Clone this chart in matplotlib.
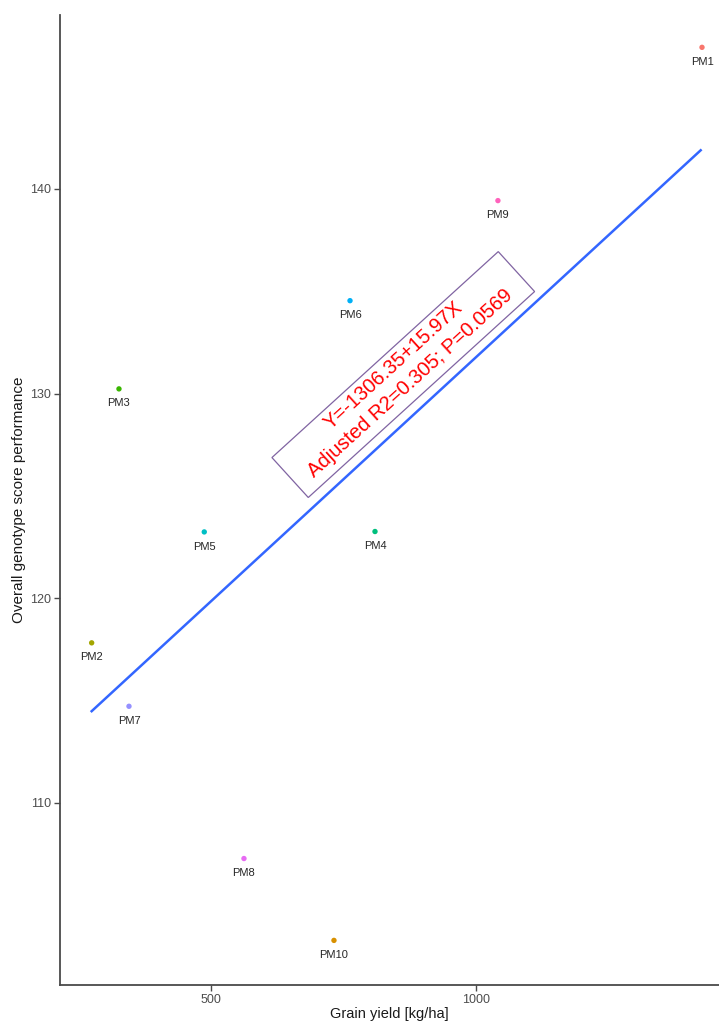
#Imports
import matplotlib
matplotlib.use('Agg')
import matplotlib.pyplot as plt
import matplotlib.transforms as mtransforms
from matplotlib.patches import Rectangle

plt.rcParams['font.family'] = ['Liberation Sans', 'DejaVu Sans']

#data
genotypes = ['PM1', 'PM10', 'PM2', 'PM3', 'PM4', 'PM5', 'PM6', 'PM7', 'PM8', 'PM9']
grain_yield = [1427.5, 732.3, 274.6, 326.2, 809.8, 487.3, 762.6, 345.1, 562.3, 1042.0]
score = [146.92, 103.28, 117.82, 130.23, 123.26, 123.24, 134.54, 114.72, 107.28, 139.43]
hue_colors = ['#F8766D', '#D89000', '#A3A500', '#39B600', '#00BF7D',
              '#00BFC4', '#00B0F6', '#9590FF', '#E76BF3', '#FF62BC']

#fitted line (as drawn)
fit_x = [274.6, 1425.0]
fit_y = [114.48, 141.89]

eq_text = 'Y=-1306.35+15.97X\nAdjusted R2=0.305; P=0.0569'
eq_pos = (863.2, 130.93)
eq_angle = 42.3

fig = plt.figure(figsize=(7.19, 10.25), dpi=100)
ax = fig.add_axes([60/719, 40/1025, 1 - 60/719, 970/1025])

ax.plot(fit_x, fit_y, color='#3366FF', lw=1.8, zorder=2)

for name, x, y, c in zip(genotypes, grain_yield, score, hue_colors):
    ax.scatter(x, y, s=15, color=c, edgecolors='none', zorder=3)
    ax.annotate(name, (x, y), xytext=(0, -10.5), textcoords='offset points',
                ha='center', va='center', fontsize=8, color='#262626', zorder=4)

ax.set_xlim(214.8, 1459.6)
ax.set_ylim(101.1, 148.5)
ax.set_xticks([500, 1000])
ax.set_yticks([110, 120, 130, 140])

for side in ['top', 'right']:
    ax.spines[side].set_visible(False)
for side in ['left', 'bottom']:
    ax.spines[side].set_color('#4a4a4a')
    ax.spines[side].set_linewidth(1.3)
ax.tick_params(axis='both', colors='#4a4a4a', length=4, width=1.0, pad=2.5,
               labelsize=9, labelcolor='#4D4D4D')

ax.set_xlabel('Grain yield [kg/ha]', fontsize=10.5, color='#1a1a1a', labelpad=1)
ax.set_ylabel('Overall genotype score performance', fontsize=11, color='#1a1a1a', labelpad=3)

#rotated box + equation
box_tr = mtransforms.Affine2D().rotate_deg(eq_angle) + \
    mtransforms.ScaledTranslation(eq_pos[0], eq_pos[1], ax.transData)
ax.add_patch(Rectangle((-153, -27), 306, 54, transform=box_tr, fill=False,
                       edgecolor='#8064A2', lw=0.9, zorder=5))
ax.text(eq_pos[0] - 3, eq_pos[1], eq_text, rotation=eq_angle, rotation_mode='anchor',
        ha='center', va='center', multialignment='center', fontsize=14.5,
        color='#FF0000', linespacing=1.35, zorder=6)

fig.savefig('out.png', dpi=100)
